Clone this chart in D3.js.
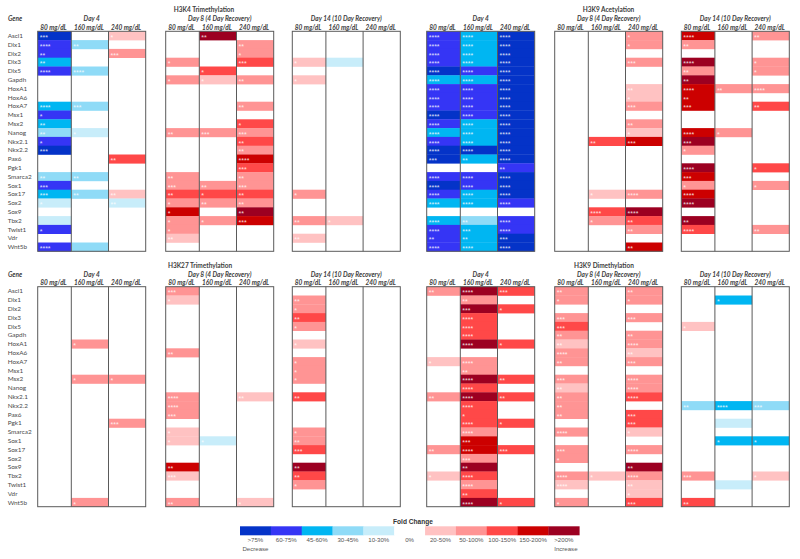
<!DOCTYPE html>
<html><head><meta charset="utf-8">
<script src="https://cdn.jsdelivr.net/npm/d3@7"></script>
<style>html,body{margin:0;padding:0;background:#fff;}</style>
</head><body><div id="chart"></div>
<script>
// ---------- data ----------
const genes = ["Ascl1","Dlx1","Dlx2","Dlx3","Dlx5","Gapdh","HoxA1","HoxA6","HoxA7","Msx1","Msx2","Nanog","Nkx2.1","Nkx2.2","Pax6","Pgk1","Smarca2","Sox1","Sox17","Sox2","Sox9","Tbx2","Twist1","Vdr","Wnt5b"];
const days = ["Day 4","Day 8 (4 Day Recovery)","Day 14 (10 Day Recovery)"];
const doses = ["80 mg/dL","160 mg/dL","240 mg/dL"];
const marks = ["H3K4 Trimethylation","H3K9 Acetylation","H3K27 Trimethylation","H3K9 Dimethylation"];
const levelCodes = [-5,-4,-3,-2,-1,0,1,2,3,4,5];
const legendLabels = [">75%","60-75%","45-60%","30-45%","10-30%","0%","20-50%","50-100%","100-150%","150-200%",">200%"];
const levelColors = ["#0433C8","#3535F5","#00B6F2","#8FDBF7","#C8EDFA","#FFFFFF","#FFC2C2","#FF9494","#FF4848","#CC0000","#9C0021"];

// columns: D4-80, D4-160, D4-240, D8-80, D8-160, D8-240, D14-80, D14-160, D14-240
const h3k4Level = [
 [-5,0,1, 0,5,0, 0,0,0],[-4,-2,0, 0,0,2, 0,0,0],[-4,0,2, 0,0,2, 0,0,0],[-3,0,0, 2,0,3, 1,-1,0],[-4,-2,0, 0,3,0, 0,0,0],
 [0,0,0, 2,1,2, 1,0,0],[0,0,0, 0,0,0, 0,0,0],[0,0,0, 0,0,0, 0,0,0],[-3,-2,0, 0,0,2, 0,0,0],[-4,0,0, 0,0,0, 0,0,0],
 [-3,0,0, 0,0,3, 0,0,0],[-2,-1,0, 2,2,2, 0,0,0],[-4,0,0, 0,0,3, 0,0,0],[-5,0,0, 0,0,2, 0,0,0],[0,0,3, 0,0,4, 0,0,0],
 [0,0,0, 0,0,3, 0,0,0],[-2,-2,0, 2,0,2, 0,0,0],[-4,0,0, 2,2,2, 0,0,0],[-3,-2,1, 3,3,3, 2,0,0],[-1,0,-1, 2,2,2, 0,0,0],
 [0,0,0, 4,0,5, 0,0,0],[-1,0,0, 2,2,4, 2,1,0],[-4,0,0, 2,0,0, 0,0,0],[0,0,0, 1,0,0, 1,0,0],[-4,-2,0, 0,0,0, 0,0,0]];
const h3k4Stars = [
 [3,0,1, 0,2,0, 0,0,0],[4,2,0, 0,0,2, 0,0,0],[2,0,3, 0,0,1, 0,0,0],[2,0,0, 1,0,3, 1,0,0],[4,4,0, 0,1,0, 0,0,0],
 [0,0,0, 1,1,2, 1,0,0],[0,0,0, 0,0,0, 0,0,0],[0,0,0, 0,0,0, 0,0,0],[4,3,0, 0,0,2, 0,0,0],[1,0,0, 0,0,0, 0,0,0],
 [2,0,0, 0,0,1, 0,0,0],[2,1,0, 2,3,3, 0,0,0],[1,0,0, 0,0,2, 0,0,0],[3,0,0, 0,0,2, 0,0,0],[0,0,2, 0,0,4, 0,0,0],
 [0,0,0, 0,0,3, 0,0,0],[2,2,0, 2,0,2, 0,0,0],[3,0,0, 3,2,3, 0,0,0],[3,2,2, 2,1,2, 1,0,0],[1,0,2, 1,2,2, 0,0,0],
 [0,0,0, 1,0,2, 0,0,0],[0,0,0, 1,1,3, 2,1,0],[1,0,0, 1,0,0, 0,0,0],[0,0,0, 2,0,0, 2,0,0],[4,0,0, 0,0,0, 0,0,0]];

const h3k9acLevel = [
 [-4,-3,-5, 0,0,2, 4,0,2],[-4,-3,-5, 0,0,2, 2,0,0],[-4,-3,-5, 0,0,0, 0,0,0],[-4,-3,-5, 0,0,2, 5,0,2],[-5,-4,-5, 0,0,0, 2,0,2],
 [-3,-3,-5, 0,0,0, 5,0,0],[-4,-4,-5, 0,0,1, 4,2,2],[-4,-4,-5, 0,0,1, 4,0,0],[-4,-4,-5, 0,0,2, 4,0,3],[-5,-4,-5, 0,0,0, 0,0,0],
 [-4,-3,-5, 0,0,2, 0,0,0],[-3,-3,-5, 0,0,1, 4,2,0],[-4,-3,-5, 0,3,4, 5,0,0],[-5,-5,-5, 0,0,0, 2,0,0],[-5,-3,-5, 0,0,0, 0,0,0],
 [0,0,-4, 0,0,0, 5,0,3],[-4,-4,-5, 0,0,0, 4,0,0],[-5,-4,-5, 0,0,0, 2,0,2],[-4,-3,-5, 0,1,2, 4,0,0],[-3,-3,-4, 0,0,0, 5,0,0],
 [0,0,0, 0,3,5, 0,0,0],[-3,-2,-4, 0,2,3, 5,0,0],[-4,-3,-4, 0,0,2, 3,0,2],[-4,-3,-5, 0,0,0, 0,0,0],[-4,-3,-5, 0,0,4, 0,0,0]];
const h3k9acStars = [
 [4,4,4, 0,0,1, 4,0,2],[4,4,4, 0,0,1, 2,0,0],[4,4,4, 0,0,0, 0,0,0],[4,4,4, 0,0,3, 4,0,1],[4,4,4, 0,0,0, 2,0,1],
 [4,4,4, 0,0,0, 2,0,0],[4,4,4, 0,0,2, 4,2,4],[4,4,4, 0,0,1, 2,0,0],[4,4,4, 0,0,3, 3,0,2],[4,4,4, 0,0,0, 0,0,0],
 [4,4,4, 0,0,2, 0,0,0],[4,4,4, 0,0,1, 4,1,0],[4,4,4, 0,2,3, 3,0,0],[4,4,4, 0,0,0, 1,0,0],[3,2,4, 0,0,0, 0,0,0],
 [0,0,2, 0,0,0, 4,0,1],[4,4,4, 0,0,0, 3,0,0],[4,4,4, 0,0,0, 1,0,1],[4,4,4, 0,1,4, 4,0,0],[4,4,4, 0,0,0, 4,0,0],
 [0,0,0, 0,4,4, 0,0,0],[4,2,4, 0,1,2, 2,0,0],[4,3,4, 0,0,2, 4,0,2],[2,2,3, 0,0,0, 0,0,0],[4,4,4, 0,0,2, 0,0,0]];

const h3k27Level = [
 [0,0,0, 2,0,0, 0,0,0],[0,0,0, 1,0,0, 2,0,0],[0,0,0, 0,0,0, 2,0,0],[0,0,0, 0,0,0, 3,0,0],[0,0,0, 0,0,0, 2,0,0],
 [0,0,0, 0,0,0, 0,0,0],[0,2,0, 0,0,0, 1,0,0],[0,0,0, 2,0,0, 0,0,0],[0,0,0, 0,0,0, 2,0,0],[0,0,0, 0,0,0, 2,0,0],
 [0,2,2, 0,0,0, 2,0,0],[0,0,0, 0,0,0, 0,0,0],[0,0,0, 2,0,1, 3,0,0],[0,0,0, 2,0,0, 0,0,0],[0,0,0, 2,0,0, 0,0,0],
 [0,0,2, 0,0,0, 0,0,0],[0,0,0, 1,0,0, 2,0,0],[0,0,0, 1,-1,0, 2,0,0],[0,0,0, 0,0,0, 3,0,0],[0,0,0, 0,0,0, 0,0,0],
 [0,0,0, 4,0,0, 5,0,0],[0,0,0, 1,0,0, 3,0,0],[0,0,0, 0,0,0, 2,0,0],[0,0,0, 0,0,0, 0,0,0],[0,2,0, 2,0,1, 0,0,0]];
const h3k27Stars = [
 [0,0,0, 3,0,0, 0,0,0],[0,0,0, 1,0,0, 2,0,0],[0,0,0, 0,0,0, 1,0,0],[0,0,0, 0,0,0, 2,0,0],[0,0,0, 0,0,0, 1,0,0],
 [0,0,0, 0,0,0, 0,0,0],[0,1,0, 0,0,0, 1,0,0],[0,0,0, 2,0,0, 0,0,0],[0,0,0, 0,0,0, 1,0,0],[0,0,0, 0,0,0, 1,0,0],
 [0,1,1, 0,0,0, 1,0,0],[0,0,0, 0,0,0, 0,0,0],[0,0,0, 4,0,2, 2,0,0],[0,0,0, 4,0,0, 0,0,0],[0,0,0, 3,0,0, 0,0,0],
 [0,0,3, 0,0,0, 0,0,0],[0,0,0, 1,0,0, 1,0,0],[0,0,0, 1,1,0, 2,0,0],[0,0,0, 0,0,0, 3,0,0],[0,0,0, 0,0,0, 0,0,0],
 [0,0,0, 2,0,0, 2,0,0],[0,0,0, 3,0,0, 2,0,0],[0,0,0, 0,0,0, 1,0,0],[0,0,0, 0,0,0, 0,0,0],[0,1,0, 2,0,1, 0,0,0]];

const h3k9me2Level = [
 [2,5,3, 2,0,2, 0,0,0],[0,2,0, 2,0,2, 0,-3,0],[0,5,3, 0,0,0, 0,0,0],[0,3,0, 2,0,2, 0,0,0],[0,3,0, 3,0,0, 1,0,0],
 [0,3,0, 2,0,2, 0,0,0],[0,5,3, 1,0,2, 0,0,0],[0,0,0, 2,0,1, 0,0,0],[1,2,0, 2,0,2, 0,0,0],[0,2,0, 0,0,0, 0,0,0],
 [0,5,3, 2,0,2, 0,0,0],[0,3,0, 1,0,2, 0,0,0],[2,5,3, 2,0,3, 0,0,0],[0,3,0, 2,0,0, -2,-3,-2],[0,3,0, 2,0,3, 0,0,0],
 [0,3,3, 0,0,3, 0,-1,0],[0,2,0, 2,0,1, 0,0,0],[0,4,0, 0,0,0, 0,-3,-3],[2,4,3, 2,0,2, 0,0,0],[0,2,0, 2,0,0, 0,0,0],
 [0,5,0, 0,0,5, 0,0,0],[1,3,0, 2,1,2, 2,0,1],[0,2,0, 1,0,1, 0,-1,0],[0,3,0, 0,0,1, 0,0,0],[0,5,3, 2,0,3, 3,0,0]];
const h3k9me2Stars = [
 [2,4,3, 2,0,2, 0,0,0],[0,2,0, 1,0,1, 0,1,0],[0,3,1, 0,0,0, 0,0,0],[0,4,0, 3,0,3, 0,0,0],[0,4,0, 3,0,0, 1,0,0],
 [0,4,0, 2,0,2, 0,0,0],[0,4,1, 2,0,4, 0,0,0],[0,0,0, 4,0,2, 0,0,0],[1,4,0, 2,0,3, 0,0,0],[0,2,0, 0,0,0, 0,0,0],
 [0,4,2, 3,0,4, 0,0,0],[0,4,0, 2,0,4, 0,0,0],[2,4,2, 2,0,4, 0,0,0],[0,4,0, 2,0,0, 2,4,3],[0,1,0, 2,0,3, 0,0,0],
 [0,4,1, 0,0,3, 0,0,0],[0,4,0, 4,0,1, 0,0,0],[0,3,0, 0,0,0, 0,1,1],[2,4,3, 3,0,4, 0,0,0],[0,3,0, 1,0,0, 0,0,0],
 [0,2,0, 0,0,2, 0,0,0],[1,4,0, 4,1,4, 3,0,1],[0,4,0, 4,0,2, 0,0,0],[0,2,0, 0,0,1, 0,0,0],[0,4,1, 1,0,3, 2,0,0]];

const markLevels = [h3k4Level, h3k9acLevel, h3k27Level, h3k9me2Level];
const markStars = [h3k4Stars, h3k9acStars, h3k27Stars, h3k9me2Stars];

// ---------- layout ----------
const W = 800, H = 559;
const svg = d3.select("#chart").append("svg").attr("width", W).attr("height", H)
  .style("font-family", "Lato, 'Open Sans', sans-serif");
svg.append("rect").attr("width", W).attr("height", H).attr("fill", "#fff");

const color = d3.scaleOrdinal().domain(levelCodes).range(levelColors);
const yRow = d3.scaleBand().domain(genes).range([0, 220]);
const markX = d3.scaleOrdinal().domain([0,1]).range([37.7, 426.7]);   // left / right block
const markY = d3.scaleOrdinal().domain([0,1]).range([31.3, 286.7]);   // top / bottom block
const dayX = d3.scaleOrdinal().domain(days).range([0, 128, 254.6]);
const doseX = d3.scaleOrdinal().domain(doses).range([0, 33.6, 70.8]);
const doseW = d3.scaleOrdinal().domain(doses).range([33.6, 37.2, 37.2]);
const panelW = 108;
const titleX = [204, 608.5, 200, 604];

marks.forEach((mark, mi) => {
  const mc = mi % 2, mr = Math.floor(mi / 2);
  const x0 = markX(mc), y0 = markY(mr);
  const g = svg.append("g");
  g.append("text").attr("x", titleX[mi]).attr("y", y0 - 19)
    .attr("text-anchor", "middle").attr("font-size", 6.5).attr("font-weight", 700)
    .attr("fill", "#404040").text(mark);
  if (mc === 0) {
    g.append("text").attr("x", 8).attr("y", y0 - 10).attr("font-size", 6.5)
      .attr("font-weight", 700).attr("font-style", "italic").attr("fill", "#404040").text("Gene");
    g.selectAll("text.gene").data(genes).join("text").attr("class", "gene")
      .attr("x", 7.7).attr("y", d => y0 + yRow(d) + yRow.bandwidth() / 2 + 2.3)
      .attr("font-size", 6.4).attr("fill", "#4a4a4a").text(d => d);
  }
  days.forEach((day, di) => {
    const px = x0 + dayX(day);
    g.append("text").attr("x", px + panelW / 2).attr("y", y0 - 10)
      .attr("text-anchor", "middle").attr("font-size", 6.5).attr("font-weight", 700)
      .attr("font-style", "italic").attr("fill", "#404040").text(day);
    doses.forEach((dose, ci) => {
      const cx = px + doseX(dose), cw = doseW(dose);
      g.append("text").attr("x", cx + cw / 2 - 1).attr("y", y0 - 1.8)
        .attr("text-anchor", "middle").attr("font-size", 6.5).attr("font-weight", 700)
        .attr("font-style", "italic").attr("fill", "#404040").text(dose);
      const col = di * 3 + ci;
      const cells = genes.map((gn, ri) => ({ gene: gn, level: markLevels[mi][ri][col], stars: markStars[mi][ri][col] }));
      g.selectAll(null).data(cells.filter(c => c.level !== 0)).join("rect")
        .attr("x", cx).attr("y", d => y0 + yRow(d.gene))
        .attr("width", cw).attr("height", yRow.bandwidth() + 0.3)
        .attr("fill", d => color(d.level));
      g.selectAll(null).data(cells.filter(c => c.stars > 0)).join("text")
        .attr("x", cx + 2).attr("y", d => y0 + yRow(d.gene) + yRow.bandwidth() / 2 + 4.2)
        .attr("font-family", "'Liberation Sans', Arial, sans-serif")
        .attr("font-size", 7).attr("fill", "#fff").attr("fill-opacity", 0.85)
        .text(d => "*".repeat(d.stars));
      if (ci > 0) {
        g.append("line").attr("x1", cx).attr("x2", cx).attr("y1", y0).attr("y2", y0 + 220)
          .attr("stroke", "#5a5a5a").attr("stroke-width", 1);
      }
    });
    g.append("rect").attr("x", px).attr("y", y0).attr("width", panelW).attr("height", 220)
      .attr("fill", "none").attr("stroke", "#5a5a5a").attr("stroke-width", 1);
  });
});

// ---------- legend ----------
const lx = d3.scaleBand().domain(levelCodes).range([240, 579.3]);
const lg = svg.append("g").attr("font-family", "'Liberation Sans', Arial, sans-serif");
lg.append("text").attr("x", 413).attr("y", 524).attr("text-anchor", "middle")
  .attr("font-size", 6.6).attr("font-weight", 700).attr("fill", "#333").text("Fold Change");
lg.selectAll("rect").data(levelCodes).join("rect")
  .attr("x", d => lx(d)).attr("y", 526.3).attr("width", lx.bandwidth() + 0.3).attr("height", 9)
  .attr("fill", d => color(d));
lg.selectAll("text.ll").data(levelCodes).join("text").attr("class", "ll")
  .attr("x", d => lx(d) + lx.bandwidth() / 2).attr("y", 542.2).attr("text-anchor", "middle")
  .attr("font-size", 6.1).attr("fill", "#555").text((d, i) => legendLabels[i]);
lg.append("text").attr("x", lx(-5) + lx.bandwidth() / 2).attr("y", 550.5).attr("text-anchor", "middle")
  .attr("font-size", 6.1).attr("fill", "#555").text("Decrease");
lg.append("text").attr("x", lx(5) + lx.bandwidth() / 2 + 2).attr("y", 550.5).attr("text-anchor", "middle")
  .attr("font-size", 6.1).attr("fill", "#555").text("Increase");
</script></body></html>
